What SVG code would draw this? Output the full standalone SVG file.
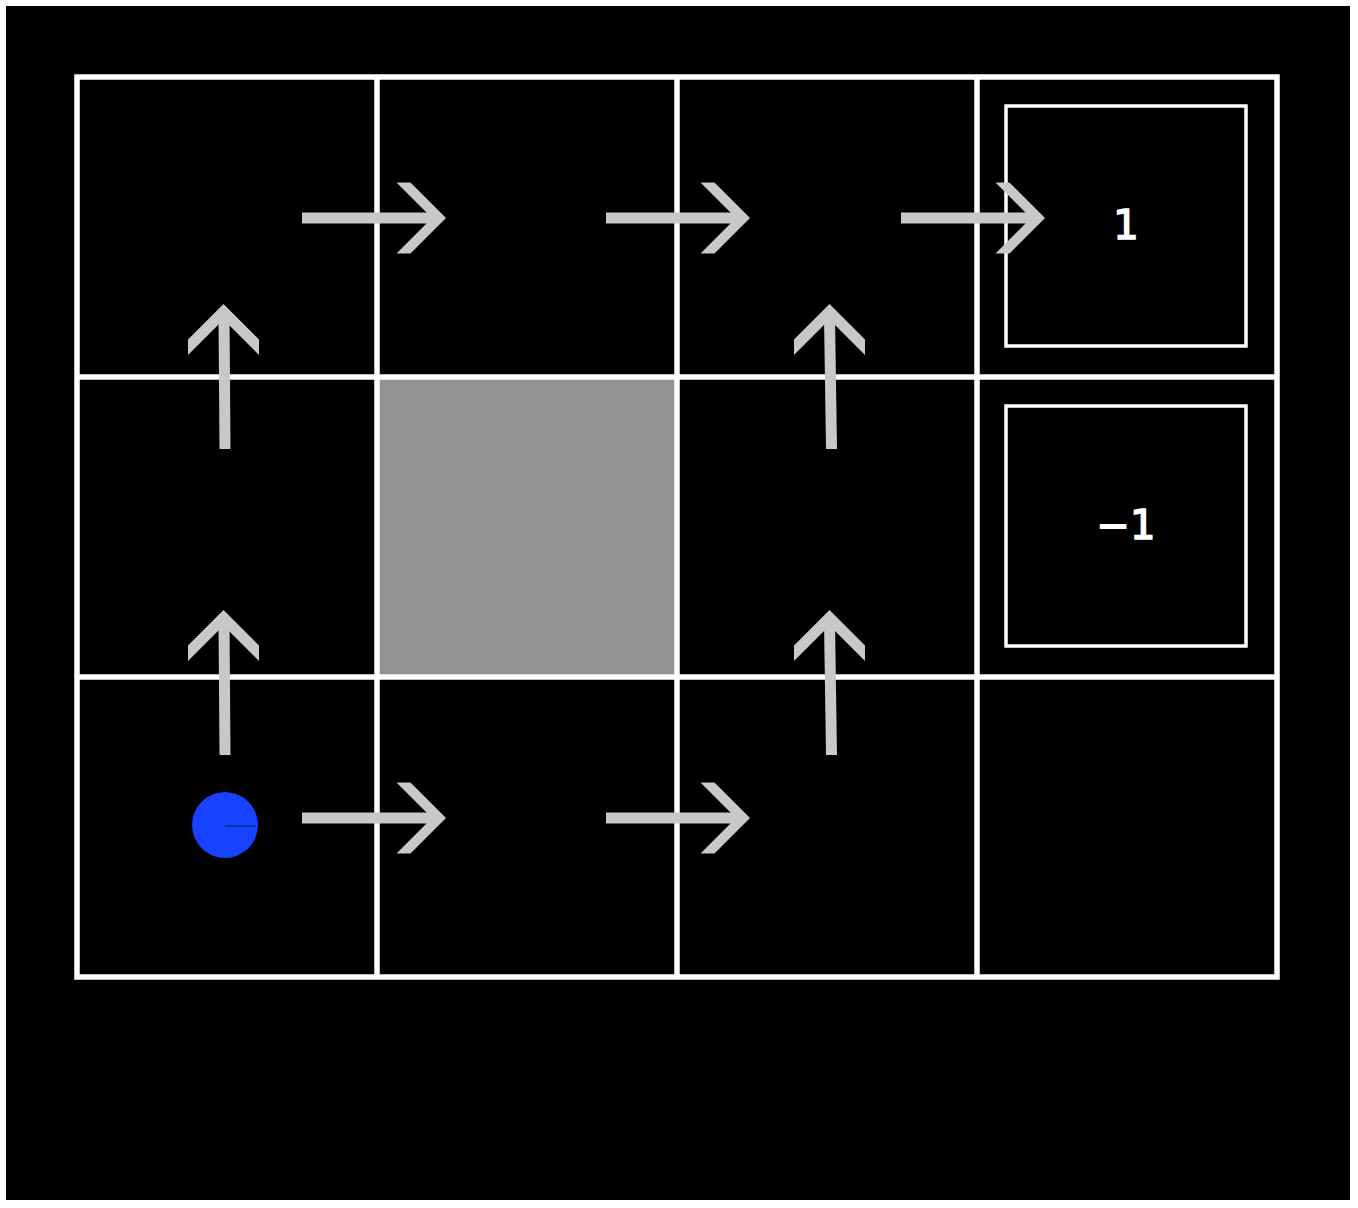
<svg xmlns="http://www.w3.org/2000/svg" width="1358" height="1208" viewBox="0 0 1358 1208">
<style>
.grid{stroke:#ffffff;stroke-width:5.5;fill:none}
.term{stroke:#ffffff;stroke-width:3.5;fill:none}
.arrow{fill:#c8c8c8}
.lbl{font-family:"DejaVu Sans",sans-serif;font-size:40px;font-weight:normal;fill:#ffffff;stroke:#ffffff;stroke-width:1.5;text-anchor:middle}
</style>
<rect x="0" y="0" width="1358" height="1208" fill="#ffffff"/>
<rect x="6" y="6" width="1344" height="1194" fill="#000000"/>
<g id="wall"><rect x="377" y="377" width="300" height="300" fill="#929292"/></g>
<g id="grid">
<rect class="grid" x="77" y="77" width="1200" height="900"/>
<line class="grid" x1="377" y1="77" x2="377" y2="977"/>
<line class="grid" x1="677" y1="77" x2="677" y2="977"/>
<line class="grid" x1="977" y1="77" x2="977" y2="977"/>
<line class="grid" x1="77" y1="377" x2="1277" y2="377"/>
<line class="grid" x1="77" y1="677" x2="1277" y2="677"/>
</g>
<g id="terminal-plus">
<rect class="term" x="1006" y="106" width="240" height="240"/>
<text class="lbl" x="1126" y="239">1</text>
</g>
<g id="terminal-minus">
<rect class="term" x="1006" y="406" width="240" height="240"/>
<text class="lbl" x="1126" y="539">−1</text>
</g>
<g id="agent">
<circle cx="225" cy="825" r="33" fill="#1742ff"/>
<line x1="225" y1="826" x2="256" y2="826" stroke="#0b2690" stroke-width="1.5"/>
</g>
<g id="connectors">
<g id="a-r-0-0" class="arrow">
<rect x="302" y="212.5" width="132" height="11"/>
<polygon points="446,218 410.5,182.5 396.5,182.5 432,218 396.5,253.5 410.5,253.5"/>
</g>
<g id="a-r-0-1" class="arrow">
<rect x="606" y="212.5" width="132" height="11"/>
<polygon points="750,218 714.5,182.5 700.5,182.5 736,218 700.5,253.5 714.5,253.5"/>
</g>
<g id="a-r-0-2" class="arrow">
<rect x="901" y="212.5" width="132" height="11"/>
<polygon points="1045,218 1009.5,182.5 995.5,182.5 1031,218 995.5,253.5 1009.5,253.5"/>
</g>
<g id="a-r-2-0" class="arrow">
<rect x="302" y="812.5" width="132" height="11"/>
<polygon points="446,818 410.5,782.5 396.5,782.5 432,818 396.5,853.5 410.5,853.5"/>
</g>
<g id="a-r-2-1" class="arrow">
<rect x="606" y="812.5" width="132" height="11"/>
<polygon points="750,818 714.5,782.5 700.5,782.5 736,818 700.5,853.5 714.5,853.5"/>
</g>
<g id="a-u-1-0" class="arrow">
<polygon points="218.5,316 229.5,316 230.5,449 219.5,449"/>
<polygon points="223.5,304 188,339.5 188,355 223.5,319.5 259,355 259,339.5"/>
</g>
<g id="a-u-2-0" class="arrow">
<polygon points="218.5,622 229.5,622 230.5,755 219.5,755"/>
<polygon points="223.5,610 188,645.5 188,661 223.5,625.5 259,661 259,645.5"/>
</g>
<g id="a-u-1-2" class="arrow">
<polygon points="824,316 835,316 837,449 826,449"/>
<polygon points="829.5,304 794,339.5 794,355 829.5,319.5 865,355 865,339.5"/>
</g>
<g id="a-u-2-2" class="arrow">
<polygon points="824,622 835,622 837,755 826,755"/>
<polygon points="829.5,610 794,645.5 794,661 829.5,625.5 865,661 865,645.5"/>
</g>
</g>
</svg>
